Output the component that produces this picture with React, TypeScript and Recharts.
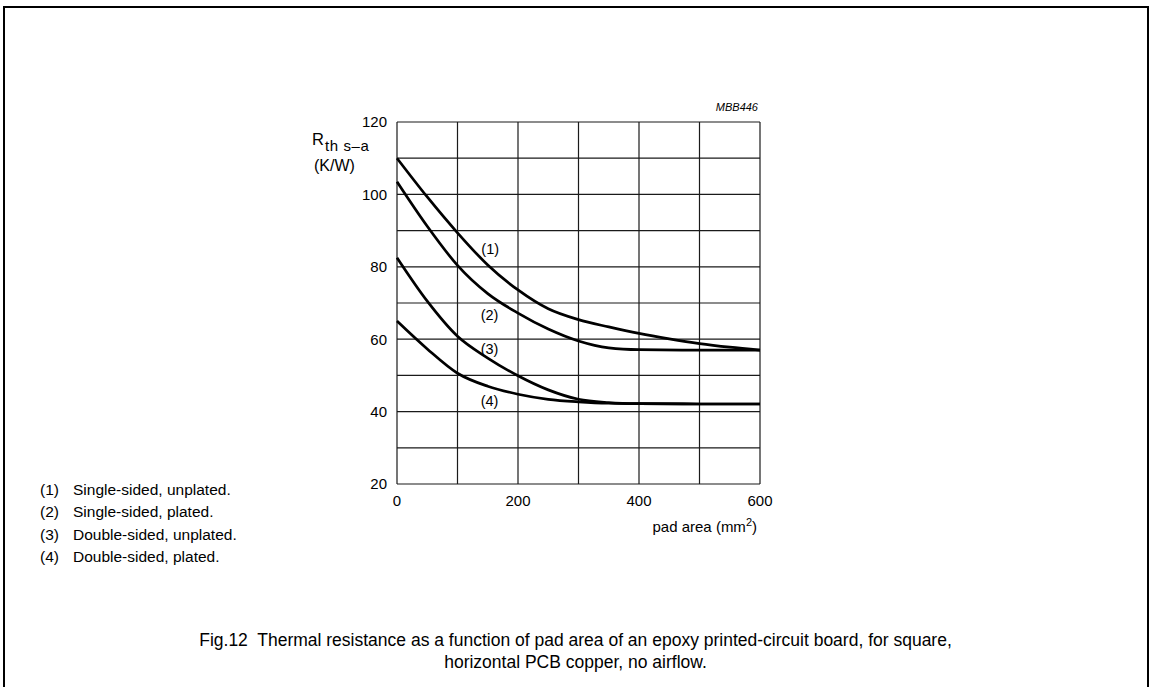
import { CartesianGrid, Label, Line, LineChart, ReferenceDot, XAxis, YAxis } from 'recharts';

const FONT = '"Liberation Sans", Arial, Helvetica, sans-serif';

// pad area (mm2) sample positions and Rth s-a (K/W)
const singleUnplated = [
    { x: 0, y: 110 }, { x: 50, y: 99.3 }, { x: 100, y: 89.4 }, { x: 150, y: 80.5 }, { x: 200, y: 73.6 },
    { x: 250, y: 68.4 }, { x: 300, y: 65.4 }, { x: 350, y: 63.4 }, { x: 400, y: 61.6 }, { x: 450, y: 60.1 },
    { x: 500, y: 58.8 }, { x: 550, y: 57.8 }, { x: 600, y: 57 },
];
const singlePlated = [
    { x: 0, y: 103.5 }, { x: 50, y: 91.2 }, { x: 100, y: 80.4 }, { x: 150, y: 72.6 }, { x: 200, y: 67.2 },
    { x: 250, y: 62.8 }, { x: 300, y: 59.5 }, { x: 350, y: 57.6 }, { x: 400, y: 57.1 }, { x: 500, y: 57 },
    { x: 600, y: 57 },
];
const doubleUnplated = [
    { x: 0, y: 82.5 }, { x: 50, y: 70.5 }, { x: 100, y: 60.8 }, { x: 150, y: 54.8 }, { x: 200, y: 49.9 },
    { x: 250, y: 46 }, { x: 300, y: 43.4 }, { x: 350, y: 42.5 }, { x: 400, y: 42.2 }, { x: 500, y: 42.1 },
    { x: 600, y: 42.1 },
];
const doublePlated = [
    { x: 0, y: 65 }, { x: 50, y: 57.3 }, { x: 100, y: 50.6 }, { x: 150, y: 47 }, { x: 200, y: 44.8 },
    { x: 250, y: 43.4 }, { x: 300, y: 42.7 }, { x: 350, y: 42.3 }, { x: 400, y: 42.2 }, { x: 500, y: 42.1 },
    { x: 600, y: 42.1 },
];

const xTicks = [0, 100, 200, 300, 400, 500, 600];
const yTicks = [20, 30, 40, 50, 60, 70, 80, 90, 100, 110, 120];

const curveLabels = [
    { text: '(1)', x: 154, y: 85 },
    { text: '(2)', x: 153, y: 66.6 },
    { text: '(3)', x: 153, y: 57.2 },
    { text: '(4)', x: 153, y: 42.9 },
];

const legendItems = [
    { key: '(1)', text: 'Single-sided, unplated.' },
    { key: '(2)', text: 'Single-sided, plated.' },
    { key: '(3)', text: 'Double-sided, unplated.' },
    { key: '(4)', text: 'Double-sided, plated.' },
];

const captionLines = [
    'Fig.12  Thermal resistance as a function of pad area of an epoxy printed-circuit board, for square,',
    'horizontal PCB copper, no airflow.',
];

const series = [singleUnplated, singlePlated, doubleUnplated, doublePlated];

function XAxisTitle({ viewBox }: { viewBox?: { x: number; y: number; width: number; height: number } }) {
    if (!viewBox) return null;
    return (
        <text x={viewBox.x + viewBox.width - 3} y={viewBox.y + 48} textAnchor="end" fontFamily={FONT} fontSize={15} fill="#000">
            pad area (mm
            <tspan fontSize={11} dy={-6}>2</tspan>
            <tspan dy={6}>)</tspan>
        </text>
    );
}

export default function App() {
    return (
        <div style={{ position: 'absolute', left: 0, top: 0, width: 1151, height: 687, background: '#fff', overflow: 'hidden', fontFamily: FONT, color: '#000' }}>
            <div style={{ position: 'absolute', left: 3, top: 6, width: 1142, height: 700, borderTop: '2px solid #000', borderLeft: '2px solid #000', borderRight: '2px solid #000' }} />

            <LineChart width={1151} height={687} data={singleUnplated} margin={{ top: 122, right: 391, left: 337, bottom: 173 }} style={{ position: 'absolute', left: 0, top: 0 }}>
                <CartesianGrid stroke="#1a1a1a" strokeWidth={1.2} />
                <XAxis
                    dataKey="x"
                    type="number"
                    domain={[0, 600]}
                    ticks={xTicks}
                    tickFormatter={(v: number) => (v % 200 === 0 ? String(v) : '')}
                    tick={{ fontSize: 15, fill: '#000', fontFamily: FONT }}
                    tickLine={false}
                    axisLine={false}
                    tickMargin={5}
                    height={30}
                    interval={0}
                >
                    <Label content={<XAxisTitle />} />
                </XAxis>
                <YAxis
                    type="number"
                    domain={[20, 120]}
                    ticks={yTicks}
                    tickFormatter={(v: number) => (v % 20 === 0 ? String(v) : '')}
                    tick={{ fontSize: 15, fill: '#000', fontFamily: FONT }}
                    tickLine={false}
                    axisLine={false}
                    tickMargin={4}
                    width={60}
                    interval={0}
                />
                {series.map((d, i) => (
                    <Line key={i} data={d} dataKey="y" type="monotone" stroke="#000" strokeWidth={2.7} dot={false} isAnimationActive={false} />
                ))}
                {curveLabels.map((l) => (
                    <ReferenceDot
                        key={l.text}
                        x={l.x}
                        y={l.y}
                        r={0}
                        stroke="none"
                        fill="none"
                        label={{ value: l.text, position: 'center', fontSize: 14.5, fill: '#000', fontFamily: FONT }}
                    />
                ))}
            </LineChart>

            <div style={{ position: 'absolute', right: 1151 - 758, top: 101, fontSize: 11, fontStyle: 'italic' }}>MBB446</div>

            <div style={{ position: 'absolute', left: 312, top: 130, fontSize: 16.5, lineHeight: '18px', whiteSpace: 'nowrap' }}>
                R<span style={{ fontSize: 15, position: 'relative', top: 6, marginLeft: 1, letterSpacing: 0.6 }}>th s–a</span>
            </div>
            <div style={{ position: 'absolute', left: 314, top: 157, fontSize: 16, lineHeight: '18px' }}>(K/W)</div>

            {legendItems.map((item, i) => (
                <div key={item.key} style={{ position: 'absolute', left: 40, top: 481 + i * 22.3, fontSize: 15.5, lineHeight: '18px', whiteSpace: 'nowrap' }}>
                    <span style={{ display: 'inline-block', width: 33 }}>{item.key}</span>
                    {item.text}
                </div>
            ))}

            {captionLines.map((line, i) => (
                <div key={i} style={{ position: 'absolute', left: 0, width: 1151, top: 630 + i * 22, textAlign: 'center', fontSize: 17.5, lineHeight: '20px', whiteSpace: 'pre' }}>
                    {line}
                </div>
            ))}
        </div>
    );
}
